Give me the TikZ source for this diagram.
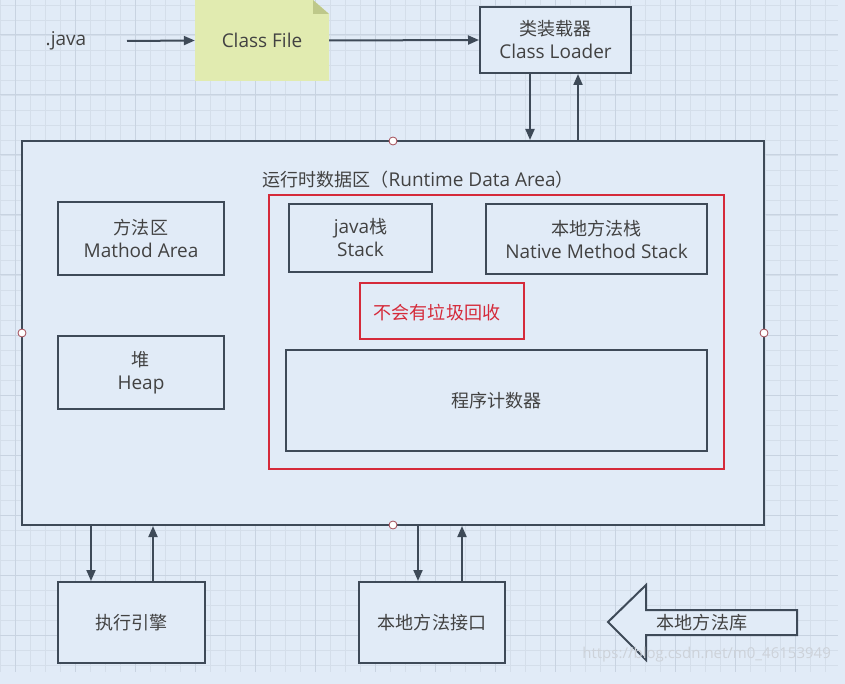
\documentclass[tikz,border=0pt]{standalone}
\usepackage{fontspec}
\setmainfont{Open Sans}
\newfontfamily\zhfont[Scale=0.95]{Noto Sans CJK SC}
\newcommand{\zh}[1]{{\zhfont #1}}
\usetikzlibrary{arrows.meta}
\definecolor{bgc}{HTML}{E1EBF7}
\definecolor{minorg}{HTML}{D4DEEA}
\definecolor{majorg}{HTML}{C8D3E1}
\definecolor{strk}{HTML}{3E4A58}
\definecolor{txt}{HTML}{424242}
\definecolor{redc}{HTML}{D52A3A}
\definecolor{notec}{HTML}{E1EBB0}
\definecolor{foldc}{HTML}{BEC88A}
\definecolor{dotc}{HTML}{A24A54}
\definecolor{wmark}{HTML}{CDD2D9}
\tikzset{
  box/.style={draw=strk, line width=2pt, fill=bgc, text=txt, align=center, font=\fontsize{19}{23}\selectfont, inner sep=0pt},
  redbox/.style={draw=redc, line width=2pt, inner sep=0pt},
  arr/.style={draw=strk, line width=2pt, -{Triangle[length=11pt,width=9pt]}},
  lbl/.style={text=txt, font=\fontsize{19}{23}\selectfont, inner sep=0pt},
  handle/.style={circle, draw=dotc, fill=white, line width=0.8pt, minimum size=8pt, inner sep=0pt}
}
\begin{document}
\begin{tikzpicture}[x=1pt,y=-1pt]
\useasboundingbox (0,0) rectangle (845,684);
\fill[bgc] (0,0) rectangle (845,684);
% grid
\begin{scope}
\clip (0,0) rectangle (838,672);
\foreach \x in {0,15,...,840} \draw[minorg, line width=0.8pt] (\x,0) -- (\x,672);
\foreach \y in {5,20,...,672} \draw[minorg, line width=0.8pt] (0,\y) -- (838,\y);
\foreach \x in {15,75,...,840} \draw[majorg, line width=1pt] (\x,0) -- (\x,672);
\foreach \y in {35,95,...,672} \draw[majorg, line width=1pt] (0,\y) -- (838,\y);
\end{scope}

% top row
\node[lbl] (java) at (66,41) {.java};
\coordinate (javaend) at (127,40);
\fill[notec] (195,0) -- (313,0) -- (329,14) -- (329,81) -- (195,81) -- cycle;
\fill[foldc] (313,0) -- (313,14) -- (329,14) -- cycle;
\node[lbl, minimum width=134pt, minimum height=81pt] (cf) at (262,40.5) {Class File};
\node[box, minimum width=151pt, minimum height=66pt] (cl) at (555.5,40) {\zh{类装载器}\\Class Loader};

% runtime data area
\node[box, minimum width=742pt, minimum height=384pt] (rda) at (393,333) {};
\node[lbl] (title) at (418,180) {\zh{运行时数据区（}Runtime Data Area\zh{）}};
\node[box, minimum width=166pt, minimum height=73pt] (ma) at (141,238.5) {\zh{方法区}\\Mathod Area};
\node[box, minimum width=166pt, minimum height=73pt] (heap) at (141,372.5) {\zh{堆}\\Heap};
\node[redbox, minimum width=455pt, minimum height=274pt] (nogc) at (496.5,332) {};
\node[box, minimum width=143pt, minimum height=68pt] (js) at (360.5,238) {java\zh{栈}\\Stack};
\node[box, minimum width=221pt, minimum height=70pt] (nms) at (596.5,239) {\zh{本地方法栈}\\Native Method Stack};
\node[redbox, minimum width=164pt, minimum height=56pt] (gcl) at (442,311) {};
\node[lbl, text=redc] (gct) at (437,313) {\zh{不会有垃圾回收}};
\node[box, minimum width=421pt, minimum height=101pt] (pc) at (496.5,400.5) {\zh{程序计数器}};

% bottom
\node[box, minimum width=147pt, minimum height=81pt] (ee) at (131.5,622.5) {\zh{执行引擎}};
\node[box, minimum width=146pt, minimum height=81pt] (ni) at (432,622.5) {\zh{本地方法接口}};

% connectors
\draw[arr] (java.east -| javaend) -- (cf.west);
\draw[arr] (cf.east) -- (cl.west);
\draw[arr] (530,0 |- cl.south) -- (530,0 |- rda.north);
\draw[arr] (578,0 |- rda.north) -- (578,0 |- cl.south);
\draw[arr] (91,0 |- rda.south) -- (91,0 |- ee.north);
\draw[arr] (153,0 |- ee.north) -- (153,0 |- rda.south);
\draw[arr] (418,0 |- rda.south) -- (418,0 |- ni.north);
\draw[arr] (462,0 |- ni.north) -- (462,0 |- rda.south);

% handles
\node[handle] (h1) at (393,141) {};
\node[handle] (h2) at (22,333) {};
\node[handle] (h3) at (764,333) {};
\node[handle] (h4) at (393,525) {};

% library arrow
\draw[strk, line width=2pt, fill=bgc, line join=miter] (608,622) -- (646,585) -- (646,610) -- (797,610) -- (797,635) -- (646,635) -- (646,660) -- cycle;
\node[lbl] (lib) at (702,623) {\zh{本地方法库}};

% watermark
\node[text=wmark, font=\fontsize{15}{18}\selectfont, inner sep=0pt, anchor=east] (wm) at (831,655) {https://blog.csdn.net/m0\_46153949};
\end{tikzpicture}
\end{document}
